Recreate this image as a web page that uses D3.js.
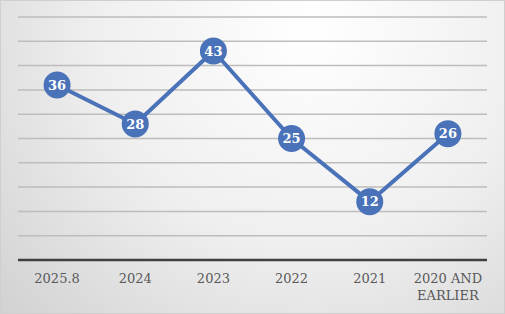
<!DOCTYPE html>
<html>
<head>
<meta charset="utf-8">
<script src="https://cdn.jsdelivr.net/npm/d3@7"></script>
<style>
  body { margin: 0; overflow: hidden; }
  svg { display: block; }
</style>
</head>
<body>
<div id="chart"></div>
<script>
// data
var categories = ["2025.8", "2024", "2023", "2022", "2021", "2020 AND EARLIER"];
var values = [36, 28, 43, 25, 12, 26];
var yTicks = [0, 5, 10, 15, 20, 25, 30, 35, 40, 45, 50];

var width = 505, height = 314;
var margin = { top: 17, right: 18, bottom: 54, left: 18 };

var svg = d3.select("#chart").append("svg")
    .attr("width", width)
    .attr("height", height);

// background gradient
var defs = svg.append("defs");
var grad = defs.append("radialGradient")
    .attr("id", "bg")
    .attr("gradientUnits", "userSpaceOnUse")
    .attr("cx", 310).attr("cy", 30).attr("r", 430);
grad.append("stop").attr("offset", "0%").attr("stop-color", "#ffffff");
grad.append("stop").attr("offset", "50%").attr("stop-color", "#efefef");
grad.append("stop").attr("offset", "100%").attr("stop-color", "#d0d0d0");

svg.append("rect")
    .attr("width", width).attr("height", height)
    .attr("fill", "url(#bg)");
svg.append("rect")
    .attr("x", 0.5).attr("y", 0.5)
    .attr("width", width - 1).attr("height", height - 1)
    .attr("fill", "none")
    .attr("stroke", "#cfcfcf");

var x = d3.scaleBand()
    .domain(categories)
    .range([margin.left, width - margin.right]);

var y = d3.scaleLinear()
    .domain([0, 50])
    .range([height - margin.bottom, margin.top]);

// gridlines
svg.append("g")
    .selectAll("line")
    .data(yTicks.filter(function(d) { return d > 0; }))
    .join("line")
    .attr("x1", margin.left)
    .attr("x2", width - margin.right)
    .attr("y1", function(d) { return y(d); })
    .attr("y2", function(d) { return y(d); })
    .attr("stroke", "#bdbdbd")
    .attr("stroke-width", 1.5);

// baseline
svg.append("line")
    .attr("x1", margin.left)
    .attr("x2", width - margin.right)
    .attr("y1", y(0)).attr("y2", y(0))
    .attr("stroke", "#404040")
    .attr("stroke-width", 2.5);

// category labels
var labels = svg.append("g")
    .selectAll("text")
    .data(categories)
    .join("text")
    .attr("x", function(d) { return x(d) + x.bandwidth() / 2; })
    .attr("y", 283)
    .attr("text-anchor", "middle")
    .attr("font-family", "'DejaVu Serif', 'Liberation Serif', serif")
    .attr("font-size", 13)
    .attr("fill", "#595959");

labels.each(function(d) {
  var t = d3.select(this);
  var parts = d == "2020 AND EARLIER" ? ["2020 AND", "EARLIER"] : [d];
  parts.forEach(function(p, i) {
    t.append("tspan")
      .attr("x", x(d) + x.bandwidth() / 2)
      .attr("dy", i == 0 ? 0 : 17)
      .text(p);
  });
});

// line
var line = d3.line()
    .x(function(d, i) { return x(categories[i]) + x.bandwidth() / 2; })
    .y(function(d) { return y(d); });

svg.append("path")
    .datum(values)
    .attr("d", line)
    .attr("fill", "none")
    .attr("stroke", "#4a72b8")
    .attr("stroke-width", 4)
    .attr("stroke-linejoin", "round");

// markers
var pts = svg.append("g")
    .selectAll("g")
    .data(values)
    .join("g")
    .attr("transform", function(d, i) {
      return "translate(" + (x(categories[i]) + x.bandwidth() / 2) + "," + y(d) + ")";
    });

pts.append("circle")
    .attr("r", 13.5)
    .attr("fill", "#4a72b8");

pts.append("text")
    .attr("text-anchor", "middle")
    .attr("dy", "0.36em")
    .attr("font-family", "'DejaVu Serif', 'Liberation Serif', serif")
    .attr("font-weight", "bold")
    .attr("font-size", 13)
    .attr("fill", "#ffffff")
    .text(function(d) { return d; });
</script>
</body>
</html>
